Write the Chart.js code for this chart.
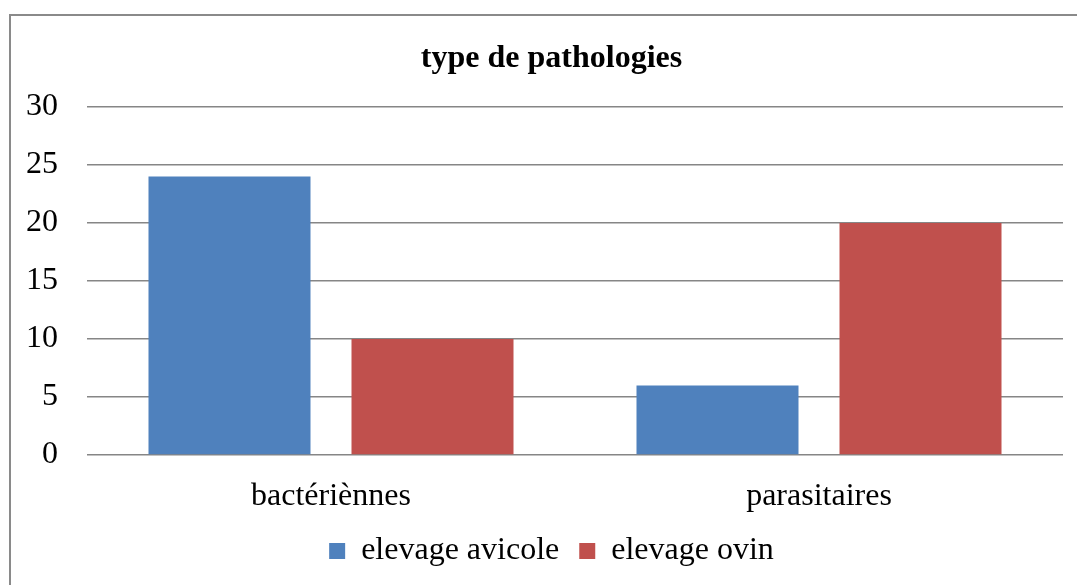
<!DOCTYPE html>
<html>
<head>
<meta charset="utf-8">
<script src="https://cdn.jsdelivr.net/npm/chart.js@4"></script>
<style>
html,body{margin:0;padding:0;background:#fff;}
#wrap{width:1077px;height:585px;position:relative;}
</style>
</head>
<body>
<div id="wrap"><canvas id="c" width="1077" height="585"></canvas></div>
<script>
const categories = ["bactériènnes", "parasitaires"];
const seriesNames = ["elevage avicole", "elevage ovin"];
const avicoleValues = [24, 6];
const ovinValues = [10, 20];
const yTicks = [0, 5, 10, 15, 20, 25, 30];
const chartTitle = "type de pathologies";

const frame = {
  id: 'frame',
  beforeDraw(chart) {
    const ctx = chart.ctx;
    ctx.save();
    ctx.fillStyle = '#ffffff';
    ctx.fillRect(0, 0, chart.width, chart.height);
    ctx.strokeStyle = '#8a8a8a';
    ctx.lineWidth = 2;
    ctx.strokeRect(10, 15, 1200, 700);
    ctx.restore();
  }
};

const serif = "'Liberation Serif', 'Times New Roman', serif";

new Chart(document.getElementById('c'), {
  type: 'bar',
  data: {
    labels: categories,
    datasets: [
      { label: seriesNames[0], data: avicoleValues, backgroundColor: '#4F81BD', categoryPercentage: 0.832, barPercentage: 0.798 },
      { label: seriesNames[1], data: ovinValues, backgroundColor: '#C0504D', categoryPercentage: 0.832, barPercentage: 0.798 }
    ]
  },
  options: {
    responsive: false,
    animation: false,
    devicePixelRatio: 1,
    layout: { padding: { left: 26, right: 0, top: 14, bottom: 8 } },
    plugins: {
      title: {
        display: true,
        text: chartTitle,
        color: '#000',
        font: { family: serif, size: 32, weight: 'bold' },
        padding: { top: 25.8, bottom: 28.8 }
      },
      legend: {
        position: 'bottom',
        labels: {
          color: '#000',
          font: { family: serif, size: 32 },
          boxWidth: 16,
          boxHeight: 16,
          padding: 20
        }
      },
      tooltip: { enabled: false }
    },
    scales: {
      x: {
        grid: { display: false },
        border: { display: false },
        ticks: { color: '#000', font: { family: serif, size: 32 }, padding: 14 },
        afterFit(scale) { scale.height = 60; }
      },
      y: {
        min: 0, max: 30,
        afterBuildTicks(scale) { scale.ticks = yTicks.map(v => ({ value: v })); },
        grid: { color: '#868686', lineWidth: 1.5, drawTicks: false },
        border: { display: false },
        ticks: { color: '#000', font: { family: serif, size: 32 }, padding: 29 },
        afterFit(scale) { scale.width = 61; }
      },
      yRight: {
        position: 'right',
        display: true,
        min: 0, max: 30,
        grid: { display: false, drawTicks: false },
        border: { display: false },
        ticks: { display: false },
        afterFit(scale) { scale.width = 14; }
      }
    }
  },
  plugins: [frame]
});
</script>
</body>
</html>
